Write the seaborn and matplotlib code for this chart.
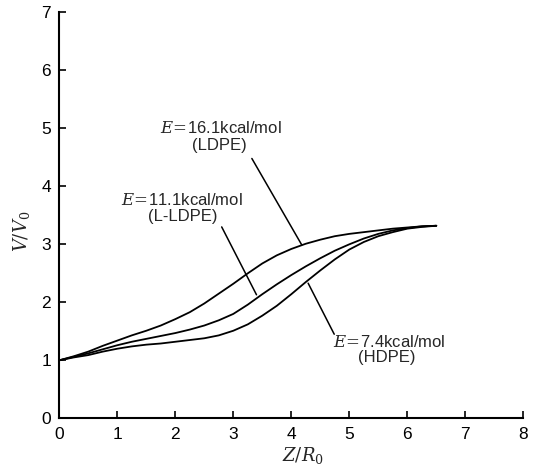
import matplotlib
matplotlib.use("Agg")
import matplotlib.pyplot as plt
import seaborn as sns
import pandas as pd

# ---- data ----
z_r0 = [0, 0.25, 0.5, 0.75, 1, 1.25, 1.5, 1.75, 2, 2.25, 2.5, 2.75, 3, 3.25,
        3.5, 3.75, 4, 4.25, 4.5, 4.75, 5, 5.25, 5.5, 5.75, 6, 6.25, 6.5]
v_ldpe = [1.00, 1.07, 1.15, 1.25, 1.34, 1.43, 1.51, 1.60, 1.71, 1.83, 1.98, 2.15, 2.32, 2.50,
          2.67, 2.81, 2.92, 3.01, 3.08, 3.14, 3.18, 3.21, 3.24, 3.27, 3.29, 3.31, 3.32]
v_lldpe = [1.00, 1.06, 1.12, 1.19, 1.26, 1.32, 1.37, 1.42, 1.47, 1.53, 1.60, 1.69, 1.80, 1.96,
           2.14, 2.31, 2.47, 2.62, 2.76, 2.89, 3.00, 3.10, 3.18, 3.24, 3.28, 3.31, 3.32]
v_hdpe = [1.00, 1.05, 1.09, 1.15, 1.20, 1.24, 1.27, 1.29, 1.32, 1.35, 1.38, 1.43, 1.51, 1.62,
          1.77, 1.94, 2.14, 2.35, 2.55, 2.74, 2.91, 3.04, 3.14, 3.21, 3.27, 3.30, 3.32]
series_names = ["LDPE", "L-LDPE", "HDPE"]
energies = ["16.1", "11.1", "7.4"]
x_ticks = [0, 1, 2, 3, 4, 5, 6, 7, 8]
y_ticks = [0, 1, 2, 3, 4, 5, 6, 7]

df = pd.concat([
    pd.DataFrame({"z": z_r0, "v": v, "grade": name})
    for v, name in zip([v_ldpe, v_lldpe, v_hdpe], series_names)
])

sns.set_style("ticks")
plt.rcParams["font.family"] = ["Liberation Sans", "DejaVu Sans"]
plt.rcParams["mathtext.fontset"] = "dejavuserif"

fig = plt.figure(figsize=(5.40, 4.65), dpi=100)
ax = fig.add_axes([0.1098, 0.1004, 0.8593, 0.8731])

sns.lineplot(data=df, x="z", y="v", units="grade", estimator=None,
             color="black", lw=1.3, ax=ax, legend=False)

ax.set_xlim(0, 8)
ax.set_ylim(0, 7)
ax.set_xticks(x_ticks)
ax.set_yticks(y_ticks)
ax.set_xticklabels([str(t) for t in x_ticks])
ax.set_yticklabels([str(t) for t in y_ticks])
ax.tick_params(direction="in", length=5, width=1.2, labelsize=12.5, colors="black")
ax.tick_params(axis="x", pad=6)
ax.tick_params(axis="y", pad=6)
for s in ["top", "right"]:
    ax.spines[s].set_visible(False)
for s in ["left", "bottom"]:
    ax.spines[s].set_linewidth(1.5)
    ax.spines[s].set_color("black")

ax.set_xlabel(r"$Z/R_0$", fontsize=13)
ax.set_ylabel(r"$V/V_0$", fontsize=13)
ax.xaxis.set_label_coords(0.525, -0.065)
ax.yaxis.set_label_coords(-0.058, 0.46)

# annotations: (text position, label position, line start, line end)
ann = [
    ((2.79, 5.00), (2.76, 4.71), (3.32, 4.48), (4.18, 2.99)),
    ((2.11, 3.76), (2.12, 3.48), (2.80, 3.30), (3.40, 2.13)),
    ((5.69, 1.31), (5.65, 1.05), (4.74, 1.45), (4.29, 2.33)),
]
for (tp, lp, ls, le), name, e in zip(ann, series_names, energies):
    ax.text(tp[0], tp[1], r"$E\!=\!$" + f"{e}kcal/mol", ha="center", va="center",
            fontsize=12)
    ax.text(lp[0], lp[1], f"({name})", ha="center", va="center", fontsize=12)
    ax.annotate("", xy=le, xytext=ls,
                arrowprops=dict(arrowstyle="-", lw=1.1, color="black",
                                shrinkA=0, shrinkB=0))

fig.savefig("out.png", dpi=100)
